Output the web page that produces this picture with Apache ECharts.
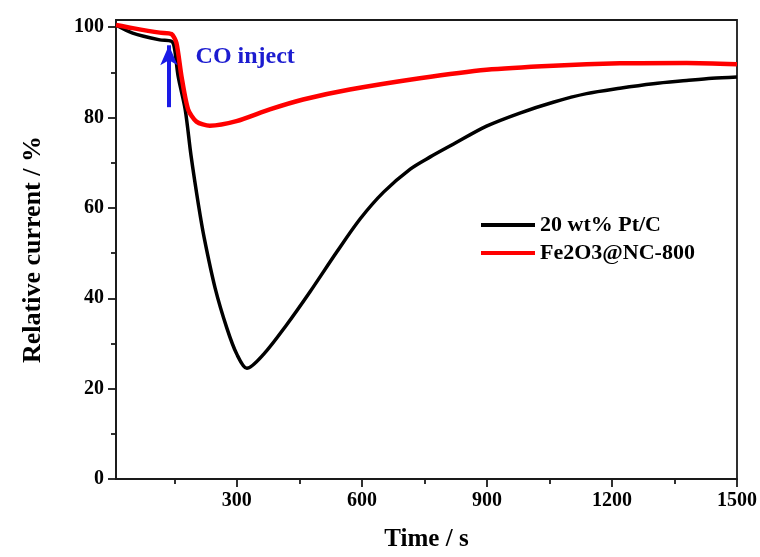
<!DOCTYPE html>
<html>
<head>
<meta charset="utf-8">
<script src="https://cdn.jsdelivr.net/npm/echarts@6/dist/echarts.min.js"></script>
<style>
  html, body { margin: 0; padding: 0; background: #fff; }
  #chart { width: 760px; height: 557px; }
</style>
</head>
<body>
<div id="chart"></div>
<script>
// 20 wt% Pt/C 曲线 (时间 s, 相对电流 %)
var ptcTime = [10, 50, 115, 143, 150, 159, 176, 190, 208, 222, 248, 276, 300, 324, 364, 420, 476, 540, 596, 652, 716, 764, 819, 899, 979, 1059, 1139, 1219, 1299, 1379, 1440, 1500];
var ptcValue = [100.5, 98.7, 97.2, 96.9, 95.5, 89.2, 81.8, 71.6, 60.6, 53.2, 42.2, 33.4, 27.6, 24.5, 27.6, 34.2, 41.5, 50.3, 57.6, 63.5, 68.6, 71.3, 74.1, 78.1, 81.0, 83.4, 85.3, 86.5, 87.5, 88.2, 88.7, 89.0];

// Fe2O3@NC-800 曲线
var feTime = [10, 50, 115, 143, 155, 167, 183, 203, 235, 299, 379, 459, 571, 739, 899, 1059, 1219, 1379, 1500];
var feValue = [100.5, 99.8, 98.8, 98.5, 96.5, 89.2, 81.8, 79.1, 78.2, 79.2, 81.8, 84.0, 86.2, 88.7, 90.6, 91.5, 92.0, 92.1, 91.8];

// 坐标轴刻度
var xMajor = [300, 600, 900, 1200, 1500];
var xMinor = [150, 450, 750, 1050, 1350];
var yMajor = [0, 20, 40, 60, 80, 100];
var yMinor = [10, 30, 50, 70, 90];

// CO 注入标注
var arrowFrom = [137, 82.3];
var arrowTo = [137, 96];
var noteAt = [320, 93.5];

function pairs(xs, ys) {
    return xs.map(function (x, i) { return [x, ys[i]]; });
}

var font = 'Liberation Serif';
var axisColor = '#1a1a1a';
var plain = function (v) { return String(v); };

var myChart = echarts.init(document.getElementById('chart'), null, { renderer: 'canvas' });

var option = {
    backgroundColor: '#fff',
    animation: false,
    grid: {
        left: 116, right: 23, top: 20, bottom: 75,
        show: true, borderColor: axisColor, borderWidth: 1.8, backgroundColor: 'transparent'
    },
    legend: {
        orient: 'vertical',
        left: 476, top: 209,
        itemWidth: 54, itemHeight: 4, itemGap: 6,
        icon: 'rect',
        textStyle: { fontFamily: font, fontWeight: 'bold', fontSize: 22, lineHeight: 22, color: '#000' },
        data: ['20 wt% Pt/C', 'Fe2O3@NC-800']
    },
    xAxis: [{
        type: 'value', min: 10, max: 1500,
        name: 'Time / s', nameLocation: 'middle', nameGap: 48,
        nameTextStyle: { fontFamily: font, fontWeight: 'bold', fontSize: 25, color: '#000' },
        axisLine: { lineStyle: { color: axisColor, width: 1.8 } },
        axisTick: { customValues: xMajor, length: 8, lineStyle: { color: axisColor, width: 1.8 } },
        axisLabel: { customValues: xMajor, formatter: plain, margin: 12, fontFamily: font, fontWeight: 'bold', fontSize: 20, color: '#000' },
        splitLine: { show: false }
    }, {
        type: 'value', min: 10, max: 1500, position: 'bottom',
        axisLine: { show: false },
        axisTick: { customValues: xMinor, length: 5, lineStyle: { color: axisColor, width: 1.8 } },
        axisLabel: { show: false },
        splitLine: { show: false }
    }],
    yAxis: [{
        type: 'value', min: 0, max: 101.6,
        name: 'Relative current / %', nameLocation: 'middle', nameGap: 70,
        nameTextStyle: { fontFamily: font, fontWeight: 'bold', fontSize: 26, color: '#000' },
        axisLine: { show: true, lineStyle: { color: axisColor, width: 1.8 } },
        axisTick: { show: true, customValues: yMajor, length: 8, lineStyle: { color: axisColor, width: 1.8 } },
        axisLabel: { customValues: yMajor, formatter: plain, margin: 12, fontFamily: font, fontWeight: 'bold', fontSize: 20, color: '#000' },
        splitLine: { show: false }
    }, {
        type: 'value', min: 0, max: 101.6, position: 'left',
        axisLine: { show: false },
        axisTick: { show: true, customValues: yMinor, length: 5, lineStyle: { color: axisColor, width: 1.8 } },
        axisLabel: { show: false },
        splitLine: { show: false }
    }],
    series: [
        {
            name: '20 wt% Pt/C', type: 'line',
            data: pairs(ptcTime, ptcValue),
            smooth: 0.3, showSymbol: false,
            color: '#000',
            lineStyle: { color: '#000', width: 3.5 }
        },
        {
            name: 'Fe2O3@NC-800', type: 'line',
            data: pairs(feTime, feValue),
            smooth: 0.25, showSymbol: false,
            color: '#ff0000',
            lineStyle: { color: '#ff0000', width: 4.5 },
            markLine: {
                silent: true,
                symbol: ['none', 'arrow'],
                symbolSize: [13, 20],
                lineStyle: { color: '#1a1ae6', width: 4, type: 'solid' },
                label: { show: false },
                data: [[{ coord: arrowFrom }, { coord: arrowTo }]]
            },
            markPoint: {
                silent: true,
                symbol: 'circle', symbolSize: 0,
                label: {
                    show: true, position: 'inside',
                    formatter: 'CO inject',
                    fontFamily: font, fontWeight: 'bold', fontSize: 24, color: '#1c1cd0'
                },
                data: [{ coord: noteAt }]
            }
        }
    ]
};

myChart.setOption(option);
</script>
</body>
</html>
